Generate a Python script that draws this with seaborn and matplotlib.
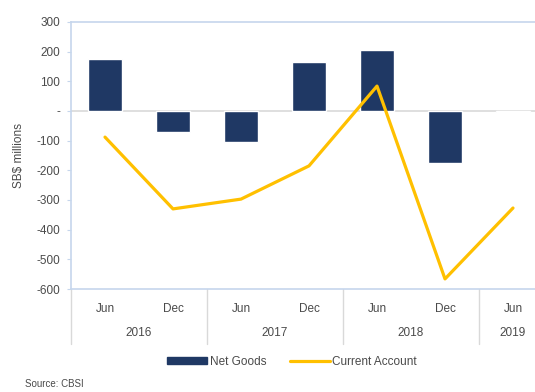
import matplotlib
matplotlib.use("Agg")
import matplotlib.pyplot as plt
import matplotlib.transforms as mtransforms
from matplotlib.lines import Line2D
from matplotlib.patches import Patch
import seaborn as sns
import pandas as pd

months = ["Jun", "Dec", "Jun", "Dec", "Jun", "Dec", "Jun"]
years = ["2016", "2017", "2018", "2019"]
year_groups = [[0, 1], [2, 3], [4, 5], [6]]
net_goods = [175, -72, -105, 165, 205, -175, -5]
current_account = [-88, -330, -297, -185, 84, -566, -327]
y_ticks = [300, 200, 100, 0, -100, -200, -300, -400, -500, -600]

NAVY = "#1f3864"
GOLD = "#ffc000"
AXBLUE = "#c6d6ec"
GRAY = "#d9d9d9"
TXT = "#4a4a4a"
FS = 8.5

sns.set_theme(style="white")
plt.rcParams["font.family"] = ["Liberation Sans", "DejaVu Sans"]

df = pd.DataFrame({"pos": list(range(len(months))), "month": months,
                   "net": net_goods, "ca": current_account})

fig = plt.figure(figsize=(5.35, 3.92), dpi=100)
ax = fig.add_axes([71/535, (392-289)/392, 476/535, 267/392])

sns.barplot(data=df, x="pos", y="net", color=NAVY, width=0.5, ax=ax,
            saturation=1, native_scale=True)
sns.lineplot(data=df, x="pos", y="ca", color=GOLD, linewidth=2.3, ax=ax)

ax.set_xlim(-0.5, len(months) - 0.5)
ax.set_ylim(-600, 300)
ax.axhline(0, color=GRAY, linewidth=1.2, zorder=0)

ax.set_yticks(y_ticks)
ax.set_yticklabels([("-" if v == 0 else str(v)) for v in y_ticks], color=TXT, fontsize=FS)
ax.tick_params(axis="y", length=3, width=0.8, color=AXBLUE, left=True, pad=5)
ax.set_xticks(df["pos"])
ax.set_xticklabels(months, color=TXT, fontsize=FS)
ax.tick_params(axis="x", length=0, pad=10)

for s in ["left", "bottom", "top"]:
    ax.spines[s].set_color(AXBLUE)
    ax.spines[s].set_linewidth(1.2)
ax.spines["right"].set_visible(False)

ax.set_xlabel("")
ax.set_ylabel("SB$ millions", fontsize=FS, color=TXT, labelpad=8)

trans = mtransforms.blended_transform_factory(ax.transData, ax.transAxes)
for yr, grp in zip(years, year_groups):
    ax.text(sum(grp) / len(grp), -0.165, yr, transform=trans, ha="center",
            va="center", fontsize=FS, color=TXT)
for xb in [-0.5, 1.5, 3.5, 5.5]:
    ax.add_line(Line2D([xb, xb], [0, -0.205], transform=trans, color=GRAY,
                       linewidth=1.0, clip_on=False))

handles = [Patch(facecolor=NAVY, edgecolor=NAVY),
           Line2D([0], [0], color=GOLD, linewidth=2.3)]
fig.legend(handles, ["Net Goods", "Current Account"], loc="center",
           bbox_to_anchor=(292/535, 1 - 362/392), ncol=2, frameon=False,
           fontsize=FS, handlelength=3.4, handleheight=0.5, handletextpad=0.2,
           columnspacing=2.0, labelcolor=TXT)

fig.text(25/535, 1 - 384/392, "Source: CBSI", fontsize=7, color=TXT,
         ha="left", va="center")

fig.savefig("out.png", dpi=100)
